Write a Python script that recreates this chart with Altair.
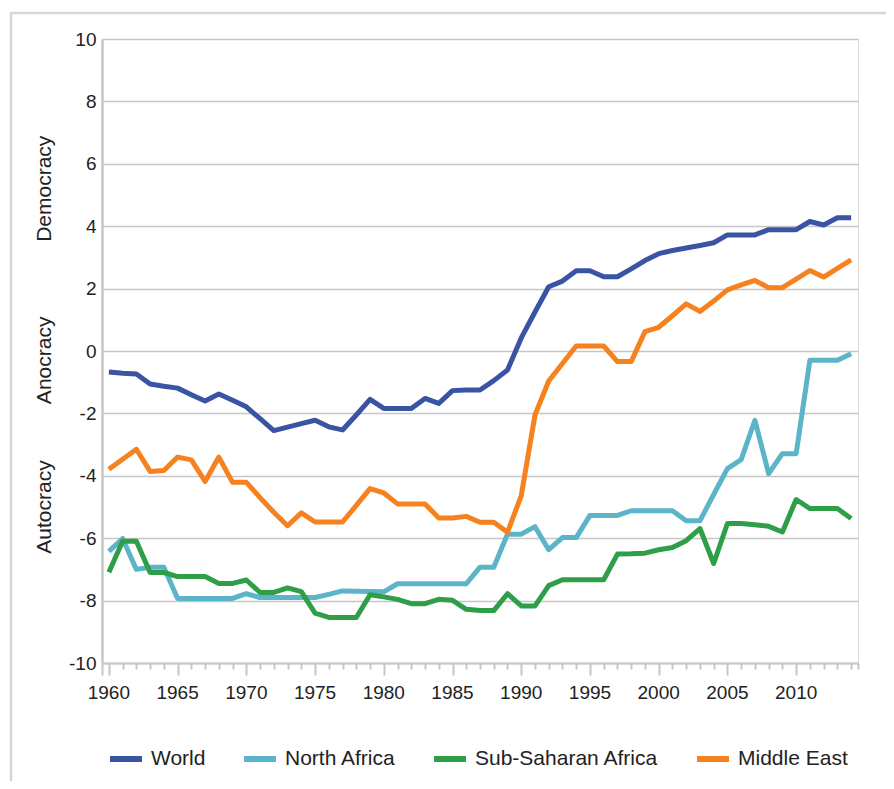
import altair as alt
import pandas as pd

years = list(range(1960, 2015))

world = [-0.67, -0.71, -0.74, -1.06, -1.13, -1.19, -1.40, -1.60, -1.38, -1.58,
         -1.79, -2.17, -2.55, -2.44, -2.33, -2.22, -2.43, -2.53, -2.05, -1.55,
         -1.84, -1.84, -1.84, -1.52, -1.68, -1.27, -1.25, -1.25, -0.95, -0.61,
         0.42, 1.25, 2.06, 2.24, 2.57, 2.57, 2.38, 2.38, 2.63, 2.90,
         3.12, 3.22, 3.30, 3.38, 3.47, 3.72, 3.72, 3.72, 3.89, 3.89,
         3.89, 4.15, 4.04, 4.27, 4.27]

north_africa = [-6.42, -6.01, -7.00, -6.93, -6.93, -7.93, -7.93, -7.93, -7.93, -7.93,
                -7.78, -7.90, -7.90, -7.90, -7.90, -7.90, -7.80, -7.69, -7.70, -7.71,
                -7.72, -7.46, -7.46, -7.46, -7.46, -7.46, -7.46, -6.93, -6.93, -5.87,
                -5.87, -5.63, -6.37, -5.98, -5.98, -5.27, -5.27, -5.27, -5.12, -5.12,
                -5.12, -5.12, -5.44, -5.44, -4.60, -3.77, -3.48, -2.22, -3.93, -3.29,
                -3.29, -0.30, -0.30, -0.30, -0.09]

sub_saharan = [-7.09, -6.10, -6.10, -7.10, -7.10, -7.23, -7.23, -7.23, -7.45, -7.45,
               -7.34, -7.74, -7.74, -7.59, -7.71, -8.40, -8.54, -8.54, -8.54, -7.81,
               -7.88, -7.96, -8.10, -8.10, -7.96, -7.99, -8.28, -8.32, -8.32, -7.78,
               -8.17, -8.17, -7.52, -7.33, -7.33, -7.33, -7.33, -6.51, -6.50, -6.48,
               -6.37, -6.30, -6.08, -5.69, -6.81, -5.53, -5.53, -5.57, -5.62, -5.80,
               -4.76, -5.05, -5.05, -5.05, -5.37]

middle_east = [-3.79, -3.47, -3.15, -3.86, -3.83, -3.40, -3.49, -4.18, -3.40, -4.21,
               -4.21, -4.70, -5.17, -5.60, -5.19, -5.48, -5.48, -5.48, -4.95, -4.41,
               -4.55, -4.90, -4.90, -4.90, -5.35, -5.35, -5.30, -5.49, -5.49, -5.81,
               -4.64, -2.05, -0.96, -0.40, 0.16, 0.16, 0.16, -0.34, -0.34, 0.62,
               0.76, 1.13, 1.51, 1.27, 1.60, 1.96, 2.12, 2.26, 2.03, 2.03,
               2.30, 2.58, 2.37, 2.65, 2.92]

series_names = ["World", "North Africa", "Sub-Saharan Africa", "Middle East"]
series_colors = ["#3a54a4", "#5bb4c8", "#2f9e48", "#f5821f"]

y_ticks = list(range(-10, 11, 2))
x_label_years = list(range(1960, 2011, 5))
tick_positions = [years[0] - 0.5] + years + [years[-1] + 0.5]

regime_labels = ["Democracy", "Anocracy", "Autocracy"]
regime_positions = [5.2, -0.3, -5.0]

rows = []
for name, vals in zip(series_names, [world, north_africa, sub_saharan, middle_east]):
    for yr, v in zip(years, vals):
        rows.append({"year": yr, "value": v, "series": name})
df = pd.DataFrame(rows)
df_regime = pd.DataFrame({"label": regime_labels, "value": regime_positions})
df_xlab = pd.DataFrame({"year": x_label_years})

FONT = "Liberation Sans"
TXT = "#222222"
GRID = "#c6c6c6"

x_scale = alt.Scale(domain=[1959.5, 2014.5], nice=False, zero=False)
y_scale = alt.Scale(domain=[-10, 10], nice=False)

x_axis = alt.Axis(values=tick_positions, labels=False, title=None,
                  grid=False, domainColor=GRID, domainWidth=2,
                  tickColor=GRID, tickWidth=2,
                  tickSize={"condition": {"test": "datum.value % 5 === 0 || datum.value === 1959.5",
                                          "value": 12},
                            "value": 6})
y_axis = alt.Axis(values=y_ticks, title=None, grid=True, gridColor=GRID,
                  gridWidth=1.5, domainColor=GRID, domainWidth=2.5,
                  ticks=False, labelFontSize=19, labelColor=TXT,
                  labelFont=FONT, labelPadding=6,
                  labelExpr="datum.value < 0 ? '-' + abs(datum.value) : '' + datum.value")

lines = alt.Chart(df).mark_line(strokeWidth=5, strokeJoin="round").encode(
    x=alt.X("year:Q", scale=x_scale, axis=x_axis),
    y=alt.Y("value:Q", scale=y_scale, axis=y_axis),
    color=alt.Color("series:N",
                    scale=alt.Scale(domain=series_names, range=series_colors),
                    sort=series_names,
                    legend=alt.Legend(title=None, orient="none", legendX=5, legendY=701,
                                      direction="horizontal", symbolType="stroke",
                                      symbolStrokeWidth=6, symbolSize=1024,
                                      labelFontSize=21, labelFont=FONT, labelColor=TXT,
                                      labelLimit=400,
                                      labelOffset=6, columnPadding=26, padding=0)),
    order=alt.Order("year:Q"),
)

xlabels = alt.Chart(df_xlab).mark_text(
    fontSize=19, font=FONT, color=TXT, baseline="middle"
).encode(
    x=alt.X("year:Q", scale=x_scale, axis=x_axis),
    y=alt.value(654),
    text=alt.Text("year:Q", format="d"),
)

regime = alt.Chart(df_regime).mark_text(
    fontSize=21, font=FONT, color=TXT, angle=270, align="center", baseline="middle"
).encode(
    x=alt.value(-57),
    y=alt.Y("value:Q", scale=y_scale, axis=y_axis),
    text="label:N",
)

frame = alt.Chart(pd.DataFrame({"a": [0]})).mark_rect(
    filled=False, stroke="#d6d6d6", strokeWidth=2.5
).encode(
    x=alt.value(-91), x2=alt.value(830),
    y=alt.value(-26), y2=alt.value(800),
)

chart = alt.layer(frame, lines, xlabels, regime).properties(
    width=756, height=624,
    autosize=alt.AutoSizeParams(type="none"),
    padding={"left": 94, "top": 31, "right": 28, "bottom": 118},
).configure_view(stroke=None).configure(font=FONT)

chart.save("out.html", embed_options={"renderer": "svg", "actions": False})
